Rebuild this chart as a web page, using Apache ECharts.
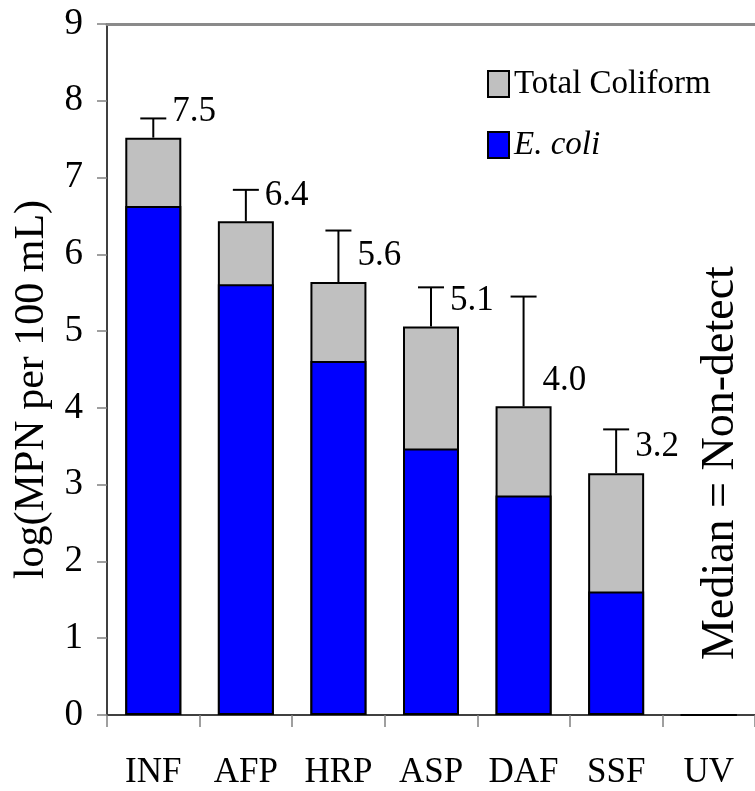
<!DOCTYPE html>
<html>
<head>
<meta charset="utf-8">
<script src="https://cdn.jsdelivr.net/npm/echarts@6/dist/echarts.min.js"></script>
<style>
  html, body { margin: 0; padding: 0; background: #fff; }
  #chart { width: 755px; height: 791px; }
</style>
</head>
<body>
<div id="chart"></div>
<script>
const categories = ['INF', 'AFP', 'HRP', 'ASP', 'DAF', 'SSF', 'UV'];
const totalColiform = [7.52, 6.43, 5.64, 5.06, 4.02, 3.15, 0];
const eColi = [6.63, 5.61, 4.61, 3.47, 2.86, 1.61, 0];
const errorTop = [7.77, 6.84, 6.31, 5.57, 5.45, 3.72, null];
const valueLabels = ['7.5', '6.4', '5.6', '5.1', '4.0', '3.2', ''];
const yMin = 0, yMax = 9, yInterval = 1;
const annotationText = 'Median = Non-detect';

const FONT = "'Liberation Serif', 'Times New Roman', serif";

const errData = [];
categories.forEach((c, i) => {
  if (errorTop[i] != null) errData.push([i, totalColiform[i], errorTop[i]]);
});

const chart = echarts.init(document.getElementById('chart'), null, { renderer: 'canvas' });

const option = {
  backgroundColor: '#ffffff',
  animation: false,
  grid: { left: 107, right: -8, top: 24, bottom: 76, containLabel: false },
  legend: {
    orient: 'vertical',
    left: 487,
    top: 67,
    padding: 0,
    itemWidth: 21,
    itemHeight: 26,
    itemGap: 27,
    icon: 'rect',
    data: ['Total Coliform', 'E. coli'],
    formatter: function (name) {
      return name === 'E. coli' ? '{i|E. coli}' : '{n|' + name + '}';
    },
    textStyle: {
      fontFamily: FONT, fontSize: 33, color: '#000', lineHeight: 34,
      padding: [0, 0, 0, 0],
      rich: {
        n: { fontFamily: FONT, fontSize: 33, color: '#000' },
        i: { fontFamily: FONT, fontSize: 33, color: '#000', fontStyle: 'italic' }
      }
    }
  },
  xAxis: [{
    type: 'category',
    data: categories,
    boundaryGap: true,
    axisLine: { show: true, lineStyle: { color: '#404040', width: 2 } },
    axisTick: { show: true, length: 12, lineStyle: { color: '#808080', width: 1.5 } },
    axisLabel: { fontFamily: FONT, fontSize: 35, color: '#000', margin: 40 },
    splitLine: { show: false }
  }, {
    type: 'category',
    data: categories,
    position: 'top',
    axisLine: { show: true, lineStyle: { color: '#8a8a8a', width: 3 } },
    axisTick: { show: false },
    axisLabel: { show: false },
    splitLine: { show: false }
  }],
  yAxis: {
    type: 'value',
    min: yMin, max: yMax, interval: yInterval,
    name: 'log(MPN per 100 mL)',
    nameLocation: 'middle',
    nameRotate: 90,
    nameGap: 54,
    nameTextStyle: { fontFamily: FONT, fontSize: 42, color: '#000', padding: [0, 0, 0, -40] },
    axisLine: { show: true, lineStyle: { color: '#000', width: 1.5 } },
    axisTick: { show: true, length: 10, lineStyle: { color: '#808080', width: 1.5 } },
    axisLabel: { fontFamily: FONT, fontSize: 37, color: '#000', margin: 24 },
    splitLine: { show: false }
  },
  series: [{
    name: 'Total Coliform',
    type: 'bar',
    data: totalColiform,
    barWidth: 56,
    barGap: '-100%',
    itemStyle: { color: '#C0C0C0', borderColor: '#000', borderWidth: 2 },
    z: 2
  }, {
    name: 'E. coli',
    type: 'bar',
    data: eColi,
    barWidth: 56,
    barGap: '-100%',
    itemStyle: { color: '#0000FF', borderColor: '#000', borderWidth: 2 },
    z: 3
  }, {
    name: 'errors',
    type: 'custom',
    data: errData,
    z: 4,
    silent: true,
    renderItem: function (params, api) {
      const i = api.value(0);
      const base = api.coord([i, api.value(1)]);
      const top = api.coord([i, api.value(2)]);
      const capHalf = 13;
      const style = { stroke: '#000', lineWidth: 2 };
      return {
        type: 'group',
        children: [
          { type: 'line', shape: { x1: base[0], y1: base[1], x2: top[0], y2: top[1] }, style: style },
          { type: 'line', shape: { x1: top[0] - capHalf, y1: top[1], x2: top[0] + capHalf, y2: top[1] }, style: style },
          { type: 'text', x: base[0] + 19, y: base[1] - 26,
            style: { text: valueLabels[params.dataIndex], fontFamily: FONT, fontSize: 35, fill: '#000',
                     textAlign: 'left', textVerticalAlign: 'middle' } }
        ]
      };
    }
  }],
  graphic: [{
    type: 'text',
    x: 721,
    y: 463,
    rotation: Math.PI / 2,
    style: { text: annotationText, fontFamily: FONT, fontSize: 46, fill: '#000',
             textAlign: 'center', textVerticalAlign: 'middle' }
  }]
};

chart.setOption(option);
</script>
</body>
</html>
